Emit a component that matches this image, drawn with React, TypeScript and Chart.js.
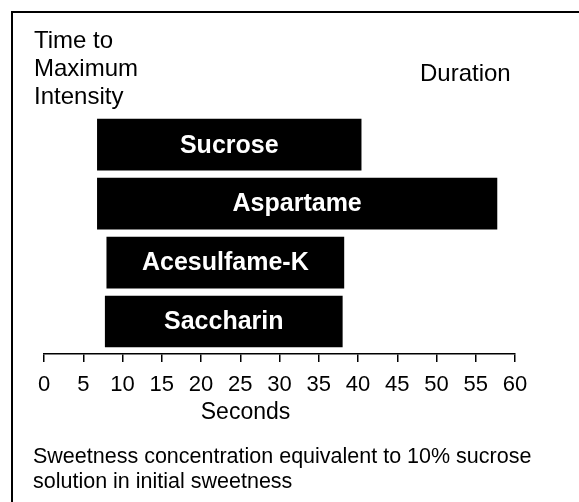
import React, { useEffect, useRef } from "react";
import { Chart, registerables } from "chart.js";

Chart.register(...registerables);

const sweeteners = ["Sucrose", "Aspartame", "Acesulfame-K", "Saccharin"];
const timeToMaxIntensity = [6.8, 6.8, 8.0, 7.8];
const durationEnd = [40.4, 57.7, 38.2, 38.0];
const xTicks = [0, 5, 10, 15, 20, 25, 30, 35, 40, 45, 50, 55, 60];
const leftHeader = ["Time to", "Maximum", "Intensity"];
const rightHeader = "Duration";
const axisTitle = "Seconds";
const footnote = [
  "Sweetness concentration equivalent to 10% sucrose",
  "solution in initial sweetness",
];

const FONT = "'Liberation Sans', Arial, sans-serif";

export default function App() {
  const ref = useRef<HTMLCanvasElement | null>(null);

  useEffect(() => {
    document.body.style.margin = "0";
    const canvas = ref.current;
    if (!canvas) return;

    const overlay = {
      id: "overlay",
      afterDraw(chart: any) {
        const ctx = chart.ctx;
        ctx.save();
        // frame
        ctx.fillStyle = "#000";
        ctx.fillRect(11, 11, 2, 491);
        ctx.fillRect(11, 11, 568, 2);

        // bar labels
        const meta = chart.getDatasetMeta(0);
        ctx.fillStyle = "#fff";
        ctx.font = `bold 25px ${FONT}`;
        ctx.textAlign = "center";
        ctx.textBaseline = "middle";
        meta.data.forEach((el: any, i: number) => {
          const p = el.getProps(["x", "y", "base"], true);
          ctx.fillText(sweeteners[i], (p.x + p.base) / 2, p.y + 1);
        });

        // headers
        ctx.fillStyle = "#000";
        ctx.font = `24px ${FONT}`;
        ctx.textAlign = "left";
        ctx.textBaseline = "alphabetic";
        leftHeader.forEach((t, i) => ctx.fillText(t, 34, 48 + i * 28));
        ctx.fillText(rightHeader, 420, 81);

        // axis title
        const xs = chart.scales.x;
        ctx.textAlign = "center";
        ctx.textBaseline = "middle";
        ctx.font = `23px ${FONT}`;
        ctx.fillText(axisTitle, (xs.left + xs.right) / 2 - 34, 413);

        // footnote
        ctx.font = `21.5px ${FONT}`;
        ctx.textAlign = "left";
        footnote.forEach((t, i) => ctx.fillText(t, 33, 457 + i * 25));
        ctx.restore();
      },
    };

    const chart = new Chart(canvas, {
      type: "bar",
      data: {
        datasets: [
          {
            data: sweeteners.map((_, i) => ({
              y: i,
              x: [timeToMaxIntensity[i], durationEnd[i]],
            })),
            backgroundColor: "#000",
            borderWidth: 0,
            barThickness: 51,
          },
        ],
      },
      options: {
        indexAxis: "y",
        animation: false,
        responsive: false,
        maintainAspectRatio: false,
        layout: { padding: { left: 44, right: 64, top: 115, bottom: 93.5 } },
        plugins: {
          legend: { display: false },
          tooltip: { enabled: false },
        },
        scales: {
          y: {
            type: "linear",
            display: false,
            reverse: true,
            offset: false,
            min: -0.503,
            max: 3.553,
          },
          x: {
            type: "linear",
            min: 0,
            max: 60,
            afterBuildTicks: (axis: any) => {
              axis.ticks = xTicks.map((v) => ({ value: v }));
            },
            grid: {
              drawOnChartArea: false,
              drawTicks: true,
              tickLength: 8,
              color: "#000",
              lineWidth: 1.5,
            },
            border: { display: true, color: "#000", width: 1.5 },
            ticks: {
              color: "#000",
              padding: 10,
              maxRotation: 0,
              autoSkip: false,
              font: { family: FONT, size: 22 },
            },
          },
        },
      },
      plugins: [overlay],
    });
    return () => chart.destroy();
  }, []);

  return <canvas ref={ref} width={579} height={502} style={{ display: "block" }} />;
}
